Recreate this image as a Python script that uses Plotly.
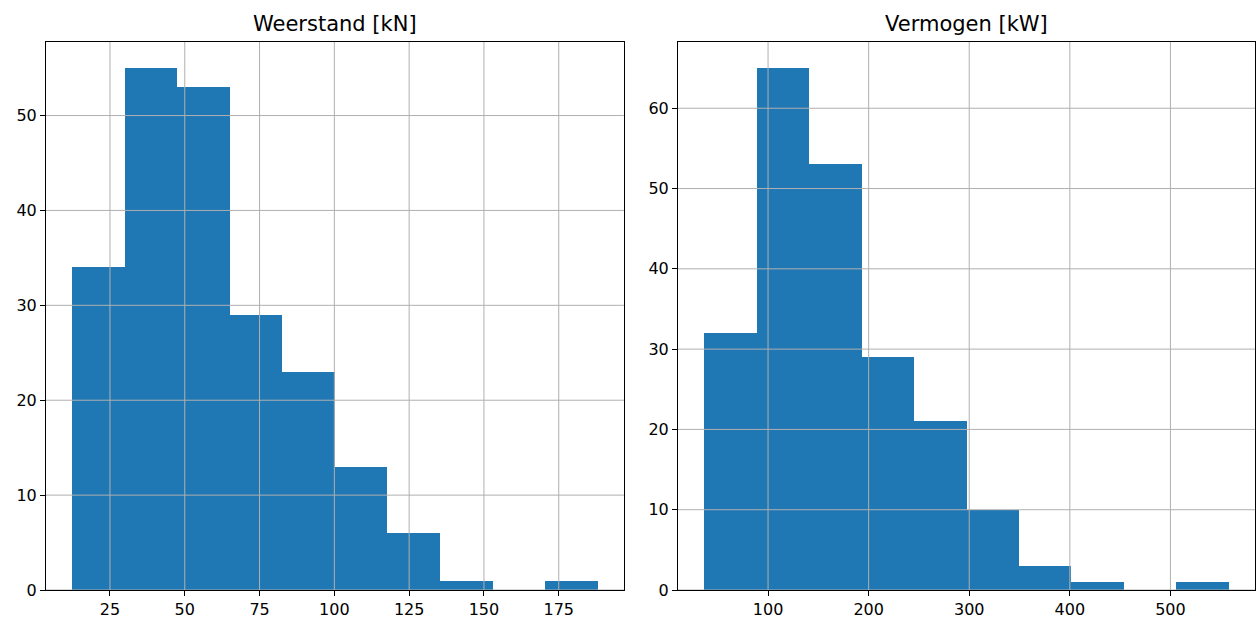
import numpy as np
import plotly.graph_objects as go
from plotly.subplots import make_subplots

# ---- data ----
titles = ["Weerstand [kN]", "Vermogen [kW]"]
weerstand_min, weerstand_max = 12.4, 188.0
weerstand_counts = [34, 55, 53, 29, 23, 13, 6, 1, 0, 1]
vermogen_min, vermogen_max = 36.5, 558.0
vermogen_counts = [32, 65, 53, 29, 21, 10, 3, 1, 0, 1]

weerstand_xticks = [25, 50, 75, 100, 125, 150, 175]
weerstand_yticks = [0, 10, 20, 30, 40, 50]
vermogen_xticks = [100, 200, 300, 400, 500]
vermogen_yticks = [0, 10, 20, 30, 40, 50, 60]

BLUE = "#1f77b4"
GRID = "#b0b0b0"
FONT = "DejaVu Sans"
TICK_FONT = dict(family=FONT, size=16, color="black")

fig = make_subplots(rows=1, cols=2, horizontal_spacing=0.0447)

panels = [
    (weerstand_min, weerstand_max, weerstand_counts, weerstand_xticks, weerstand_yticks),
    (vermogen_min, vermogen_max, vermogen_counts, vermogen_xticks, vermogen_yticks),
]

shapes = []
annotations = []
for i, (lo, hi, counts, xt, yt) in enumerate(panels):
    edges = np.linspace(lo, hi, len(counts) + 1)
    centers = (edges[:-1] + edges[1:]) / 2
    widths = np.diff(edges)
    fig.add_trace(
        go.Bar(x=centers, y=counts, width=widths, marker=dict(color=BLUE, line=dict(width=0)),
               showlegend=False, hoverinfo="skip"),
        row=1, col=i + 1,
    )
    span = hi - lo
    xr = [lo - 0.05 * span, hi + 0.05 * span]
    yr = [0, max(counts) * 1.05]
    ax = "" if i == 0 else "2"
    fig.update_xaxes(range=xr, tickvals=xt, showgrid=False, zeroline=False, automargin=False,
                     showline=True, linecolor="black", linewidth=1, mirror=True,
                     ticks="outside", ticklen=5, tickcolor="black",
                     tickfont=TICK_FONT, row=1, col=i + 1)
    fig.update_yaxes(range=yr, tickvals=yt, showgrid=False, zeroline=False, automargin=False,
                     showline=True, linecolor="black", linewidth=1, mirror=True,
                     ticks="outside", ticklen=5, tickcolor="black",
                     tickfont=TICK_FONT, row=1, col=i + 1)
    for v in xt:
        shapes.append(dict(type="line", xref="x" + ax, yref="y" + ax + " domain", x0=v, x1=v, y0=0, y1=1,
                           line=dict(color=GRID, width=1), layer="above"))
    for v in yt:
        shapes.append(dict(type="line", xref="x" + ax + " domain", yref="y" + ax, x0=0, x1=1, y0=v, y1=v,
                           line=dict(color=GRID, width=1), layer="above"))
    annotations.append(dict(text=titles[i], xref="x" + ax + " domain", yref="y" + ax + " domain",
                            x=0.5, y=1, yshift=4, xanchor="center", yanchor="bottom", showarrow=False,
                            font=dict(family=FONT, size=21, color="black")))

fig.update_layout(
    width=1256, height=619,
    margin=dict(l=46, r=1, t=42, b=29),
    paper_bgcolor="white", plot_bgcolor="white",
    bargap=0, shapes=shapes, annotations=annotations,
    font=dict(family=FONT),
)
fig.update_xaxes(domain=[0, 0.478], row=1, col=1)
fig.update_xaxes(domain=[0.5227, 1], row=1, col=2)

fig.write_html("out.html", config={"displayModeBar": False},
               post_script="document.body.style.margin='0';document.body.style.overflow='hidden';")
